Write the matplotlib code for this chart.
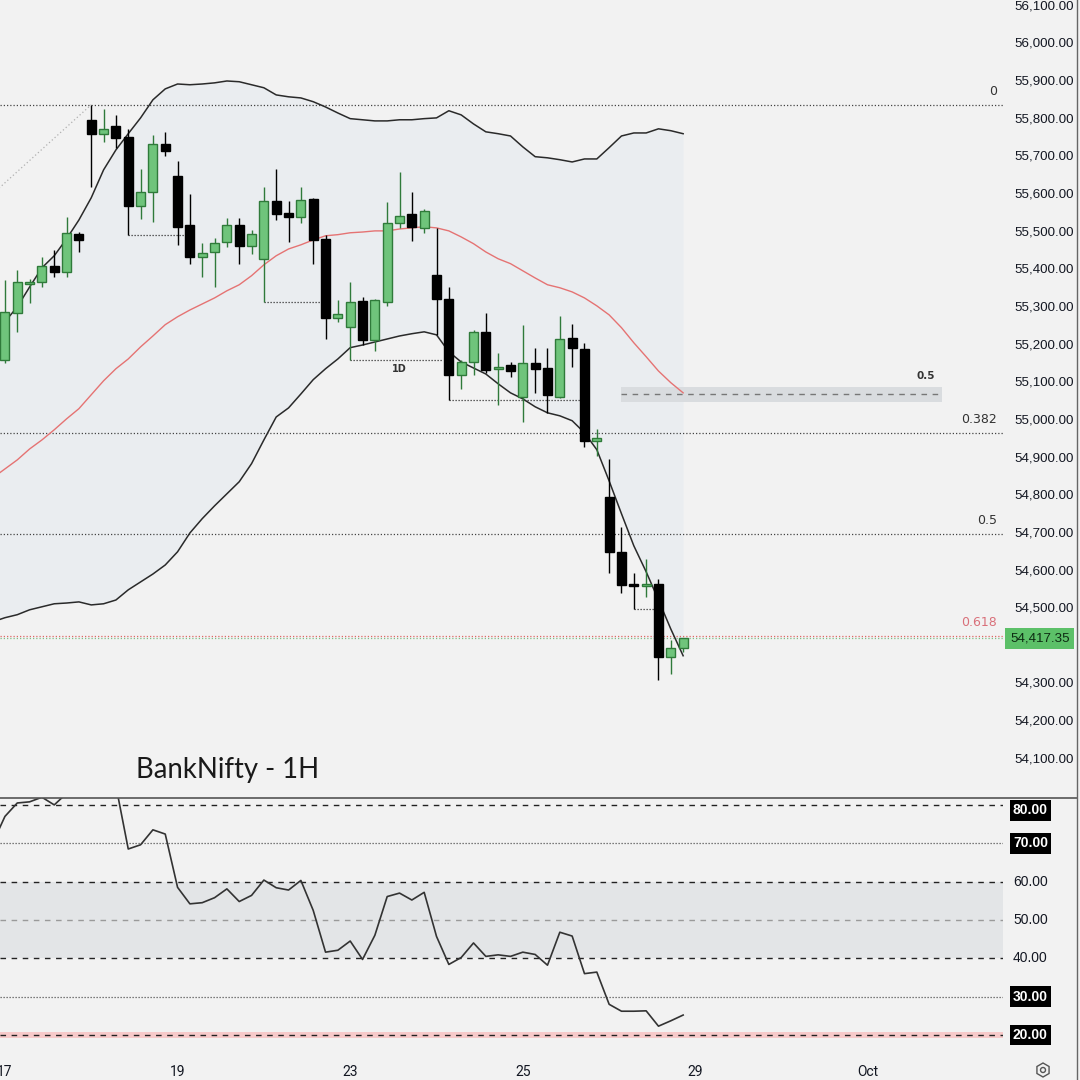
import matplotlib
matplotlib.use("Agg")
import matplotlib.pyplot as plt
from matplotlib.lines import Line2D
from matplotlib.patches import Rectangle, RegularPolygon, Circle
import numpy as np

# BankNifty 1H, bar 0 = 17 Sep 09:15, 7 bars per session
opens = [55157, 55281, 55358, 55364, 55406, 55390, 55491, 55794, 55757, 55778,
         55749, 55566, 55603, 55730, 55645, 55515, 55430, 55443, 55470, 55515,
         55459, 55425, 55579, 55547, 55536, 55584, 55478, 55268, 55244, 55313,
         55210, 55311, 55520, 55544, 55507, 55382, 55319, 55117, 55151, 55231,
         55133, 55143, 55058, 55149, 55135, 55058, 55215, 55186, 54942, 54793,
         54647, 54562, 54557, 54562, 54368, 54392]
highs = [55369, 55396, 55370, 55430, 55449, 55536, 55496, 55834, 55823, 55807,
         55770, 55664, 55754, 55762, 55685, 55597, 55467, 55481, 55534, 55534,
         55502, 55616, 55664, 55579, 55616, 55586, 55489, 55316, 55364, 55324,
         55319, 55576, 55656, 55603, 55558, 55507, 55350, 55157, 55236, 55281,
         55175, 55151, 55250, 55189, 55189, 55273, 55252, 55202, 54973, 54894,
         54713, 54591, 54628, 54575, 54413, 54419]
lows = [55149, 55231, 55308, 55350, 55377, 55377, 55443, 55616, 55735, 55720,
        55489, 55531, 55523, 55698, 55462, 55412, 55377, 55350, 55457, 55412,
        55438, 55311, 55528, 55470, 55520, 55412, 55212, 55258, 55157, 55196,
        55181, 55300, 55507, 55473, 55494, 55223, 55050, 55080, 55117, 55122,
        55037, 55112, 54992, 55069, 55016, 55056, 55138, 54926, 54902, 54591,
        54538, 54496, 54527, 54307, 54323, 54381]
closes = [55284, 55364, 55364, 55406, 55390, 55494, 55475, 55757, 55770, 55746,
          55566, 55603, 55730, 55712, 55510, 55430, 55441, 55467, 55515, 55459,
          55491, 55579, 55544, 55536, 55581, 55475, 55268, 55279, 55311, 55210,
          55316, 55520, 55539, 55510, 55552, 55319, 55117, 55151, 55231, 55130,
          55138, 55127, 55149, 55133, 55064, 55212, 55189, 54942, 54950, 54647,
          54559, 54557, 54560, 54368, 54392, 54417.35]

# indicator values from bar -1 (just left of the view) to bar 55
ind_x = list(range(-1, 56))
bb_upper = [55210, 55258, 55297, 55350, 55401, 55433, 55478, 55528, 55587, 55661,
            55714, 55757, 55799, 55847, 55876, 55889, 55887, 55889, 55892, 55897,
            55895, 55887, 55879, 55860, 55855, 55852, 55842, 55828, 55812, 55797,
            55794, 55791, 55791, 55794, 55794, 55797, 55799, 55818, 55807, 55783,
            55762, 55757, 55751, 55722, 55696, 55693, 55688, 55682, 55690, 55690,
            55720, 55751, 55759, 55759, 55770, 55765, 55757]
bb_mid = [54843, 54867, 54891, 54920, 54944, 54971, 55000, 55027, 55064, 55101,
          55133, 55159, 55191, 55220, 55250, 55271, 55289, 55305, 55321, 55340,
          55356, 55380, 55409, 55433, 55451, 55462, 55475, 55486, 55489, 55494,
          55496, 55499, 55499, 55504, 55507, 55510, 55507, 55499, 55483, 55465,
          55443, 55425, 55412, 55393, 55374, 55356, 55348, 55337, 55321, 55300,
          55276, 55242, 55202, 55165, 55127, 55096, 55069]
bb_lower = [54461, 54472, 54480, 54493, 54501, 54509, 54511, 54514, 54506, 54509,
            54519, 54546, 54567, 54588, 54612, 54647, 54697, 54735, 54769, 54801,
            54833, 54881, 54944, 55005, 55029, 55066, 55104, 55133, 55159, 55189,
            55196, 55204, 55212, 55220, 55226, 55231, 55223, 55178, 55151, 55135,
            55119, 55093, 55069, 55053, 55032, 55016, 55008, 54995, 54963, 54918,
            54835, 54748, 54663, 54594, 54519, 54442, 54371]
rsi = [70.0, 77.0, 80.5, 80.8, 82.0, 80.0, 83.0, 82.5, 86.0, 86.5,
       85.0, 68.5, 69.6, 73.5, 72.4, 58.5, 54.2, 54.5, 55.8, 58.1,
       54.8, 56.4, 60.4, 58.4, 57.8, 60.3, 52.5, 41.6, 42.1, 44.5,
       39.7, 46.0, 56.1, 57.0, 55.2, 57.2, 45.7, 38.4, 40.2, 44.0,
       40.5, 40.9, 40.5, 41.6, 41.0, 38.2, 46.8, 45.8, 36.0, 36.4,
       28.0, 26.2, 26.2, 26.3, 22.3, 23.7, 25.2]

fib_high = 55834
fib_low = 53553
fib_levels = [0, 0.382, 0.5, 0.618]
fib_hi_bar, fib_lo_bar = 7, -70

# short dotted "1D" levels: start bar, end bar, price
day_levels = [(10, 14.6, 55489), (21, 25.7, 55311), (28, 35.5, 55157),
              (36, 46.6, 55050), (51, 52.7, 54496)]

zone_left, zone_right = 50, 76
zone_bottom, zone_top, zone_mid = 55045, 55085, 55066

last_price = 54417.35

date_pos = [0, 14, 28, 42, 56, 70]
date_lab = ["17", "19", "23", "25", "29", "Oct"]

price_ticks = [p for p in range(54100, 56101, 100) if p != 54400]

bg = "#f2f2f2"
green_fill = "#6fc47b"
green_edge = "#2f7a3a"
txt = "#131722"
axis_font = ["Liberation Sans", "DejaVu Sans"]

fig = plt.figure(figsize=(10.8, 10.8), dpi=100, facecolor=bg)
W, H = 1080.0, 1080.0
ax = fig.add_axes([0, 1 - 797 / H, 1003 / W, 797 / H])
ax2 = fig.add_axes([0, 1 - 1058 / H, 1003 / W, (1058 - 798) / H], sharex=ax)
for a in (ax, ax2):
    a.set_facecolor(bg)
    for s in a.spines.values():
        s.set_visible(False)

ax.set_xlim(-0.4, 80.94)
ax.set_ylim(53996, 56112)

# bollinger fill + lines
ax.fill_between(ind_x, bb_lower, bb_upper, color="#e6ebf0", alpha=0.6, lw=0, zorder=1)
ax.plot(ind_x, bb_upper, color="#2a2a2a", lw=1.1, zorder=3)
ax.plot(ind_x, bb_lower, color="#2a2a2a", lw=1.1, zorder=3)
ax.plot(ind_x, bb_mid, color="#e57373", lw=1.0, zorder=3)

# fib retracement
rng = fib_high - fib_low
ax.plot([fib_lo_bar, fib_hi_bar], [fib_low, fib_high], color="#b0b0b0", lw=0.9,
        ls=(0, (1, 2)), zorder=2)
for lv in fib_levels:
    p = fib_high - lv * rng
    col = "#e06666" if lv == 0.618 else "#444444"
    ax.axhline(p, color=col, lw=0.9, ls=(0, (1, 1.6)), zorder=2)
    ax.text(80.45, p + 36, f"{lv:g}", ha="right", va="center", fontsize=9,
            color="#d9707a" if lv == 0.618 else "#333333")

ax.axhline(last_price, color="#7fbf87", lw=0.9, ls=(0, (1, 1.6)), zorder=2)

for x0, x1, p in day_levels:
    ax.plot([x0, x1], [p, p], color="#333333", lw=0.9, ls=(0, (1, 1.4)), zorder=2)
ax.text(32, 55133, "1D", ha="center", va="center", fontsize=7, fontweight="bold",
        color="#333333")

# zone box
ax.add_patch(Rectangle((zone_left, zone_bottom), zone_right - zone_left,
                       zone_top - zone_bottom, color="#d9dcdf", lw=0, zorder=1.5))
ax.plot([zone_left, zone_right], [zone_mid, zone_mid], color="#777777", lw=1,
        ls=(0, (4, 4)), zorder=2)
ax.text(zone_right - 0.6, 55114, "0.5", ha="right", va="center", fontsize=7.5,
        fontweight="bold", color="#333333")

# candles
idx = np.arange(len(opens))
o = np.array(opens)
c = np.array(closes)
up = c >= o
wick_cols = [green_edge if u else "black" for u in up]
ax.vlines(idx, lows, highs, colors=wick_cols, lw=1.0, zorder=4)
bottoms = np.minimum(o, c)
heights = np.maximum(np.abs(c - o), 4)
ax.bar(idx[up], heights[up], bottom=bottoms[up], width=0.72, color=green_fill,
       edgecolor=green_edge, lw=1.0, zorder=5)
ax.bar(idx[~up], heights[~up], bottom=bottoms[~up], width=0.72, color="black",
       edgecolor="black", lw=1.0, zorder=5)

# price axis
ax.yaxis.tick_right()
ax.set_yticks(price_ticks)
ax.set_yticklabels([f"{p:,.2f}" for p in price_ticks])
ax.tick_params(axis="y", length=0, pad=8, labelsize=9.6, colors=txt)
for t in ax.get_yticklabels():
    t.set_family(axis_font)
ax.tick_params(axis="x", length=0, labelbottom=False)
ax.text(1.0 + 7 / 1003, last_price, f"{last_price:,.2f}", transform=ax.get_yaxis_transform(),
        ha="left", va="center", fontsize=9.6, family=axis_font, color="#0d2b12",
        zorder=10, clip_on=False,
        bbox=dict(boxstyle="square,pad=0.35", fc="#5cc068", ec="none"))

ax.text(136 / 1003, 0.034, "BankNifty - 1H", transform=ax.transAxes, fontsize=19.8,
        family=["Lato", "DejaVu Sans"], fontweight="normal", color="#1a1a1a",
        ha="left", va="center")

# RSI panel
ax2.set_ylim(14.0, 81.8)
ax2.axhspan(40, 60, color="#e3e5e7", lw=0, zorder=1)
ax2.axhspan(19.2, 20.8, color="#f7caca", lw=0, zorder=1)
for lv in (80, 60, 40, 20):
    ax2.axhline(lv, color="#222222", lw=1.0, ls=(0, (4, 4)), zorder=2)
ax2.axhline(50, color="#9a9a9a", lw=1.0, ls=(0, (4, 4)), zorder=2)
for lv in (70, 30):
    ax2.axhline(lv, color="#555555", lw=0.9, ls=(0, (1, 1.4)), zorder=2)
ax2.plot(ind_x, rsi, color="#333333", lw=1.2, zorder=3)

ax2.set_yticks([])
ytr = ax2.get_yaxis_transform()
for lv in (80, 70, 60, 50, 40, 30, 20):
    yy = 78.6 if lv == 80 else lv
    if lv in (80, 70, 30, 20):
        ax2.text(1.0 + 10 / 1003, yy, f"{lv:.2f}", transform=ytr, ha="left", va="center",
                 fontsize=10, fontweight="bold", family=axis_font, color="white",
                 clip_on=False,
                 bbox=dict(boxstyle="square,pad=0.25", fc="black", ec="none"))
    else:
        ax2.text(1.0 + 10 / 1003, yy, f"{lv:.2f}", transform=ytr, ha="left", va="center",
                 fontsize=10, family=axis_font, color=txt, clip_on=False)

ax2.set_xticks(date_pos)
ax2.set_xticklabels(date_lab)
ax2.tick_params(axis="x", length=0, pad=5, labelsize=10, colors=txt)
for t in ax2.get_xticklabels():
    t.set_family(["Roboto", "DejaVu Sans"])

# frame lines
fig.add_artist(Line2D([0, 1077 / W], [1 - 797.5 / H] * 2, color="#555555", lw=1.2))
fig.add_artist(Line2D([1077 / W] * 2, [0, 1], color="#666666", lw=1.0))

# settings icon
fig.add_artist(RegularPolygon((1043 / W, 1 - 1070 / H), 6, radius=7 / W, fill=False,
                              ec="#555555", lw=1.0))
fig.add_artist(Circle((1043 / W, 1 - 1070 / H), 2.5 / W, fill=False, ec="#555555", lw=1.0))

fig.savefig("out.png", dpi=100, facecolor=bg)
